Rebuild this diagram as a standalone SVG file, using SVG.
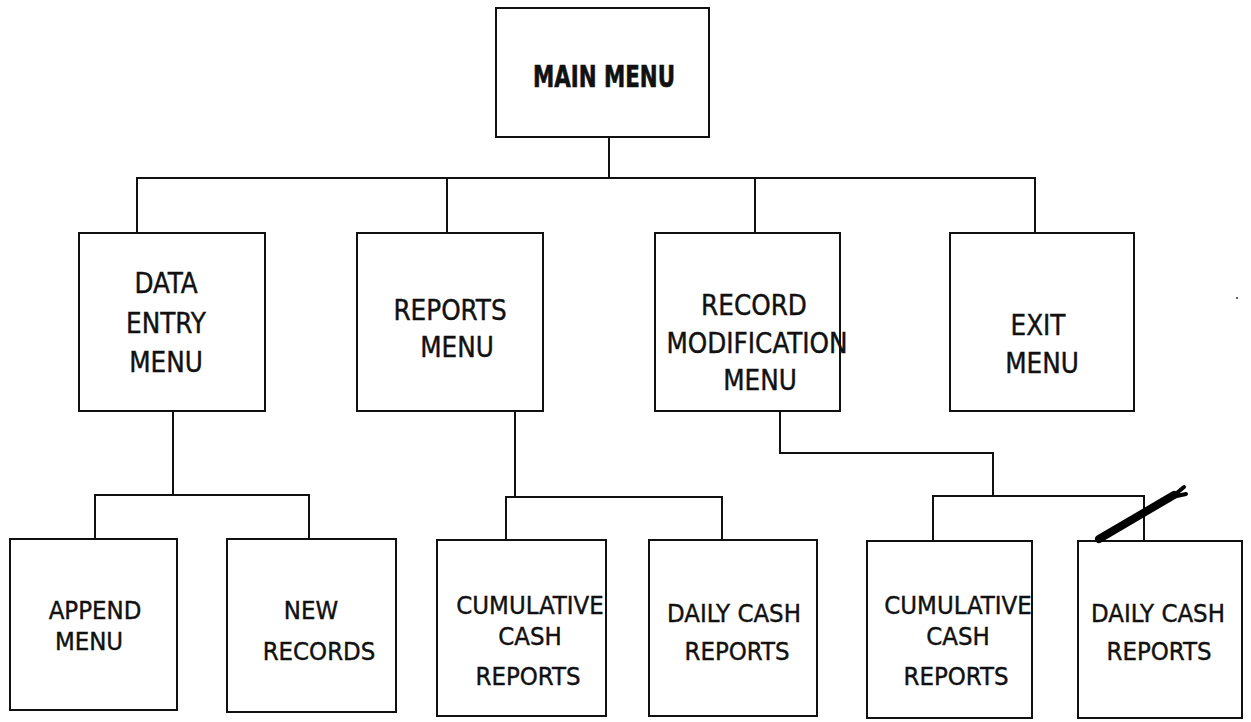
<svg xmlns="http://www.w3.org/2000/svg" width="1251" height="722" viewBox="0 0 1251 722">
<style>
.box{fill:#fff;stroke:#111;stroke-width:2}
.wire{fill:none;stroke:#111;stroke-width:2;stroke-linejoin:miter}
text{font-family:"DejaVu Sans Condensed","DejaVu Sans",sans-serif;font-stretch:condensed;fill:#111;stroke:#111;stroke-width:0.4;text-anchor:middle}
.t2{font-size:27.5px}
.t3{font-size:25.5px}
.tm{font-size:30px;font-weight:bold;stroke-width:0.6}
</style>
<rect width="1251" height="722" fill="#fff"/>
<g id="connectors">
<path class="wire" d="M609 137V178M137 233V178H1035V233M447 178V233M755 178V233"/>
<path class="wire" d="M173 411V495M95 539V495H309V539"/>
<path class="wire" d="M515 411V497M506 540V497H722V540"/>
<path class="wire" d="M780 411V453H993V496M933 541V496H1144V541"/>
</g>
<g id="main-menu"><rect class="box" x="496" y="8" width="213" height="129"/><text class="tm" x="604" y="87" textLength="142" lengthAdjust="spacingAndGlyphs">MAIN MENU</text></g>
<g id="data-entry-menu"><rect class="box" x="79" y="233" width="186" height="178"/><text class="t2" x="166" y="293">DATA</text><text class="t2" x="166" y="333">ENTRY</text><text class="t2" x="166" y="372">MENU</text></g>
<g id="reports-menu"><rect class="box" x="357" y="233" width="186" height="178"/><text class="t2" x="450" y="320">REPORTS</text><text class="t2" x="457" y="357">MENU</text></g>
<g id="record-modification-menu"><rect class="box" x="655" y="233" width="185" height="178"/><text class="t2" x="754" y="315">RECORD</text><text class="t2" x="757" y="353">MODIFICATION</text><text class="t2" x="760" y="390">MENU</text></g>
<g id="exit-menu"><rect class="box" x="950" y="233" width="184" height="178"/><text class="t2" x="1038" y="335">EXIT</text><text class="t2" x="1042" y="373">MENU</text></g>
<g id="append-menu"><rect class="box" x="10" y="539" width="167" height="171"/><text class="t3" x="95" y="619">APPEND</text><text class="t3" x="89" y="650">MENU</text></g>
<g id="new-records"><rect class="box" x="227" y="539" width="169" height="173"/><text class="t3" x="311" y="619">NEW</text><text class="t3" x="319" y="660">RECORDS</text></g>
<g id="cumulative-cash-reports-1"><rect class="box" x="437" y="540" width="169" height="176"/><text class="t3" x="530" y="614">CUMULATIVE</text><text class="t3" x="530" y="645">CASH</text><text class="t3" x="528" y="685">REPORTS</text></g>
<g id="daily-cash-reports-1"><rect class="box" x="649" y="540" width="168" height="176"/><text class="t3" x="734" y="622">DAILY CASH</text><text class="t3" x="737" y="660">REPORTS</text></g>
<g id="cumulative-cash-reports-2"><rect class="box" x="867" y="541" width="165" height="177"/><text class="t3" x="958" y="614">CUMULATIVE</text><text class="t3" x="958" y="645">CASH</text><text class="t3" x="956" y="685">REPORTS</text></g>
<g id="daily-cash-reports-2"><rect class="box" x="1078" y="541" width="164" height="177"/><text class="t3" x="1158" y="622">DAILY CASH</text><text class="t3" x="1159" y="660">REPORTS</text></g>
<g id="pen-mark">
<path d="M1099 539L1174 495" stroke="#000" stroke-width="8" stroke-linecap="round" fill="none"/>
<path d="M1172 497L1184 487M1172 497L1186 494" stroke="#000" stroke-width="4" stroke-linecap="round" fill="none"/>
</g>
<circle cx="1237" cy="298" r="1" fill="#333"/>
</svg>
